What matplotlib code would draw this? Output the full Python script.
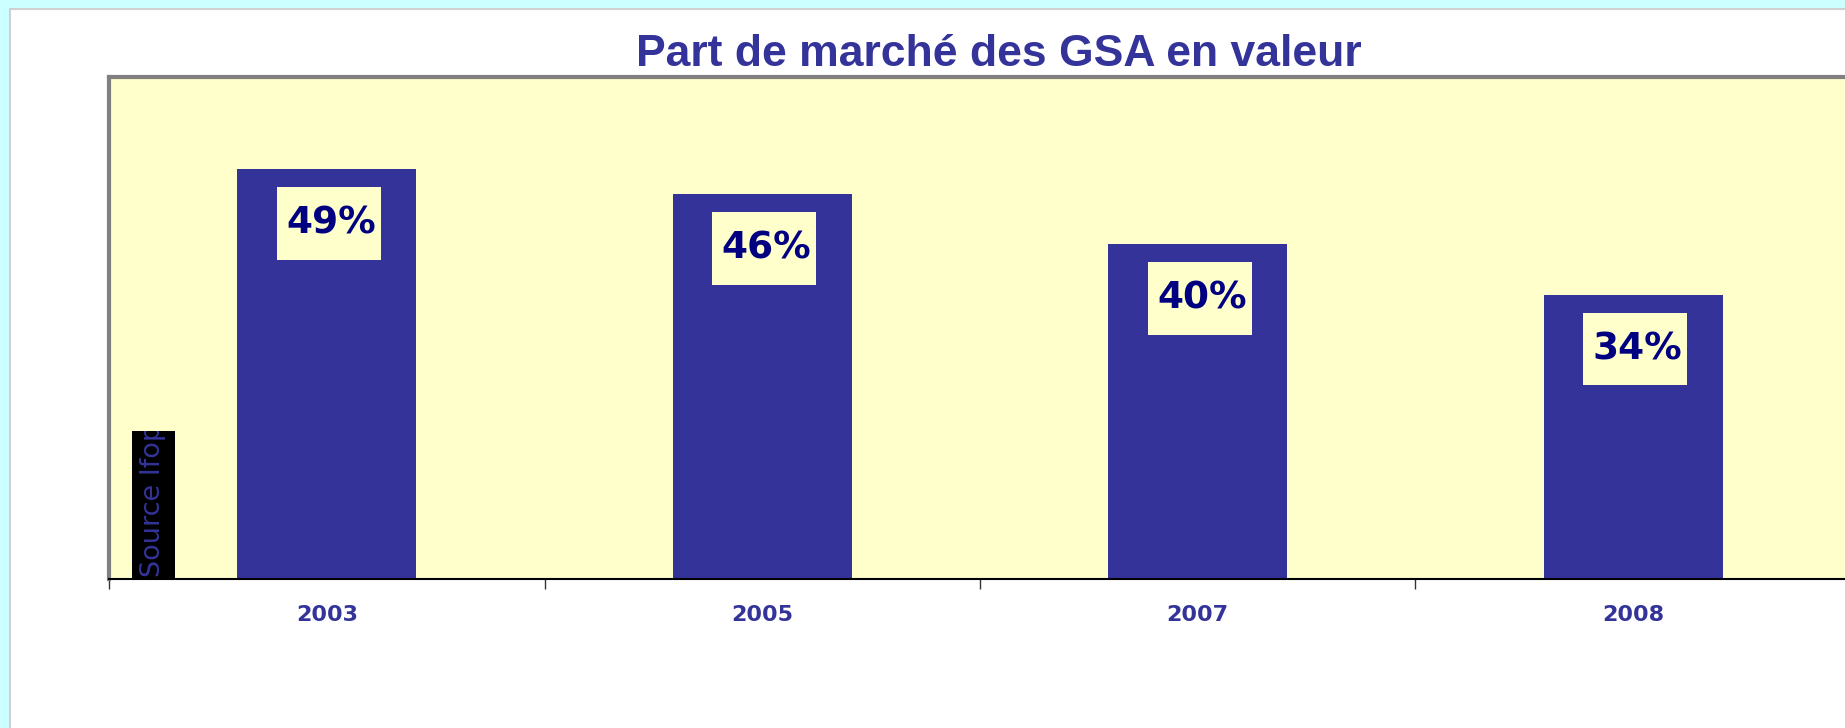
import matplotlib
matplotlib.use("Agg")
import matplotlib.pyplot as plt
from matplotlib.patches import Rectangle

# --Data--
years = ["2003", "2005", "2007", "2008"]
shares = [49, 46, 40, 34]
labels = ["49%", "46%", "40%", "34%"]
title = "Part de marché des GSA en valeur"
source = "Source Ifop"

barColor = "#333399"
plotBg = "#FFFFCC"

fig = plt.figure(figsize=(18.45, 7.28), dpi=100)
fig.patch.set_facecolor("#CCFFFF")

# white chart panel with light grey border
fig.patches.append(Rectangle((10 / 1845, -0.01), 1.0, (728 - 9) / 728 + 0.01,
                             transform=fig.transFigure, facecolor="white",
                             edgecolor="#D0D0D0", lw=1.5, zorder=-1))

ax = fig.add_axes([109 / 1845, 149 / 728, 1742 / 1845, 502 / 728])
ax.set_facecolor(plotBg)

x = list(range(len(years)))
ax.bar(x, shares, width=0.41, color=barColor, zorder=2)

ax.set_xlim(-0.5, len(years) - 0.5)
ax.set_ylim(0, 60)

# value labels in light boxes
boxW = 104 / 435.5
boxH = 73 / 8.37
for i, v in enumerate(shares):
    top = v - 18 / 8.37
    ax.add_patch(Rectangle((i + 0.005 - boxW / 2, top - boxH), boxW, boxH,
                           facecolor=plotBg, edgecolor="none", zorder=3))
    ax.text(i + 0.01, top - boxH / 2, labels[i], ha="center", va="center",
            fontsize=27, fontweight="bold", color="#000080",
            family="DejaVu Sans", zorder=4)

# "Source Ifop" black tag; the text runs past the top and is cut off there
tagX0, tagW, tagH = 23 / 1742, 43 / 1742, 148 / 502
ax.add_patch(Rectangle((tagX0, 0), tagW, tagH, transform=ax.transAxes,
                       facecolor="black", edgecolor="none", zorder=3))
ax.text(tagX0 + tagW / 2, 0.004, source, transform=ax.transAxes,
        rotation=90, ha="center", va="bottom", fontsize=19.5,
        color=barColor, family="DejaVu Sans", zorder=4)
# cover the overflow above the tag
ax.add_patch(Rectangle((tagX0 - 0.002, tagH), tagW + 0.004, 0.12,
                       transform=ax.transAxes, facecolor=plotBg,
                       edgecolor="none", zorder=5))

# axes styling
ax.set_xticks(x, years)
ax.set_xticks([i - 0.5 for i in range(len(years) + 1)], minor=True)
ax.tick_params(axis="x", which="major", length=0, pad=19)
ax.tick_params(axis="x", which="minor", length=7, width=1, color="#333333",
               direction="out")
for lab in ax.get_xticklabels():
    lab.set_fontsize(16)
    lab.set_fontweight("bold")
    lab.set_color(barColor)
    lab.set_family("DejaVu Sans")
ax.set_yticks([])

ax.spines["left"].set_color("#808080")
ax.spines["left"].set_linewidth(3)
ax.spines["top"].set_color("#808080")
ax.spines["top"].set_linewidth(3)
ax.spines["bottom"].set_color("black")
ax.spines["bottom"].set_linewidth(1.5)
ax.spines["right"].set_visible(False)

fig.text(999 / 1845, 0.909, title, ha="center", va="baseline",
         fontsize=32, fontweight="bold", color=barColor,
         family="Liberation Sans")

fig.savefig("out.png", dpi=100, facecolor=fig.get_facecolor())
